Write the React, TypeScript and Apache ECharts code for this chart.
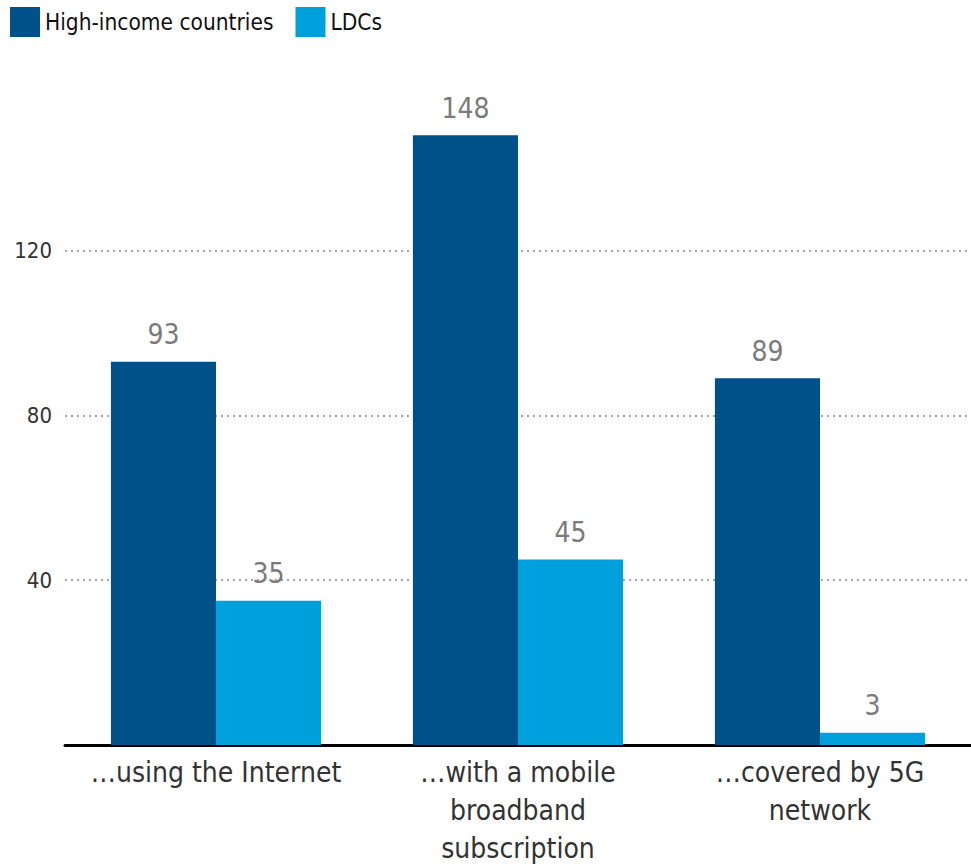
import React, { useEffect, useRef } from "react";
import * as echarts from "echarts";

const categories = ["…using the Internet", "…with a mobile\nbroadband\nsubscription", "…covered by 5G\nnetwork"];
const highIncome = [93, 148, 89];
const ldcs = [35, 45, 3];
const yTicks = [40, 80, 120];

const FONT = "'DejaVu Sans Condensed', 'Roboto', sans-serif";

export default function App() {
  const ref = useRef<HTMLDivElement>(null);
  useEffect(() => {
    if (!ref.current) return;
    const chart = echarts.init(ref.current, undefined, { renderer: "svg" });
    chart.setOption({
      animation: false,
      textStyle: { fontFamily: FONT },
      legend: {
        left: 5,
        top: 2,
        itemWidth: 30,
        itemHeight: 30,
        itemGap: 22,
        itemStyle: { borderWidth: 0 },
        textStyle: { fontFamily: FONT, fontSize: 22.5, color: "#111" },
        icon: "rect",
        data: ["High-income countries", "LDCs"],
      },
      grid: { left: 65, width: 913.5, top: 127, height: 622, containLabel: false },
      xAxis: {
        type: "category",
        data: categories,
        axisLine: { lineStyle: { color: "#000", width: 3 } },
        axisTick: { show: false },
        axisLabel: {
          fontFamily: FONT,
          fontSize: 28,
          color: "#333",
          lineHeight: 38,
          margin: 8,
          interval: 0,
        },
      },
      yAxis: {
        type: "value",
        min: 0,
        max: 150,
        interval: 40,
        axisLine: { show: false },
        axisTick: { show: false },
        axisLabel: {
          fontFamily: FONT,
          fontSize: 22,
          color: "#333",
          margin: 13,
          showMaxLabel: false,
          formatter: (v: number) => (yTicks.includes(v) ? String(v) : ""),
        },
        splitLine: {
          show: true,
          showMinLine: false,
          showMaxLine: false,
          lineStyle: { color: "#888", type: [2, 4], width: 1.5 },
        },
      },
      series: [
        {
          name: "High-income countries",
          type: "bar",
          data: highIncome,
          barGap: "0%",
          barCategoryGap: "30.4%",
          itemStyle: { color: "#00508a" },
          label: { show: true, position: "top", distance: 13, fontFamily: FONT, fontSize: 28, color: "#7a7a7a" },
        },
        {
          name: "LDCs",
          type: "bar",
          data: ldcs,
          barGap: "0%",
          barCategoryGap: "30.4%",
          itemStyle: { color: "#00a0dc" },
          label: { show: true, position: "top", distance: 13, fontFamily: FONT, fontSize: 28, color: "#7a7a7a" },
        },
      ],
    });
    return () => chart.dispose();
  }, []);
  return <div ref={ref} style={{ position: "absolute", left: 0, top: 0, width: 971, height: 867 }} />;
}
